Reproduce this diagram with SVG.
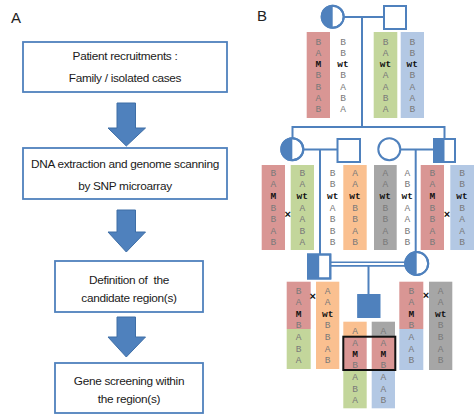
<svg xmlns="http://www.w3.org/2000/svg" width="474" height="416" viewBox="0 0 474 416">
<style>
.lbl{font-family:"Liberation Sans",Arial,sans-serif;font-size:15px;fill:#222}
.box{fill:#fff;stroke:#4f81bd;stroke-width:1.8}
.ft{font-family:"Liberation Sans",Arial,sans-serif;font-size:11.8px;letter-spacing:-0.3px;fill:#1a1a1a;text-anchor:middle}
.arr{fill:#4f81bd;stroke:#3e6ea6;stroke-width:1}
.ln{stroke:#4f81bd;stroke-width:2;fill:none}
.sym{fill:#fff;stroke:#4f81bd;stroke-width:2}
.fill{fill:#4f81bd}
.r{fill:#d99694}.g{fill:#c3d69b}.b{fill:#b3c8e4}.o{fill:#fac090}.k{fill:#a6a6a6}
.h{font-family:"Liberation Mono","Courier New",monospace;font-size:9.5px;fill:#7a7a7a;text-anchor:middle}
.m{font-family:"Liberation Mono","Courier New",monospace;font-size:9.5px;font-weight:bold;fill:#111;text-anchor:middle}
.x{font-family:"Liberation Sans",Arial,sans-serif;font-size:11px;font-weight:bold;fill:#111;text-anchor:middle}
</style>

<text class="lbl" x="11" y="23">A</text>
<text class="lbl" x="257" y="21">B</text>

<!-- Flowchart -->
<g id="step1">
<rect class="box" x="23" y="42" width="204" height="50"/>
<text class="ft" x="125" y="59.5">Patient recruitments :</text>
<text class="ft" x="125" y="81.5">Family / isolated cases</text>
</g>
<g id="step2">
<rect class="box" x="23" y="148" width="204" height="51"/>
<text class="ft" x="125" y="168">DNA extraction and genome scanning</text>
<text class="ft" x="125" y="189.5">by SNP microarray</text>
</g>
<g id="step3">
<rect class="box" x="55" y="261" width="148" height="51"/>
<text class="ft" x="129" y="283.5" xml:space="preserve">Definition of  the</text>
<text class="ft" x="129" y="301.5">candidate region(s)</text>
</g>
<g id="step4">
<rect class="box" x="55" y="363" width="148" height="50"/>
<text class="ft" x="129" y="385">Gene screening within</text>
<text class="ft" x="129" y="402.5">the region(s)</text>
</g>
<g id="flow-arrows">
<path class="arr" d="M117,103 H135.5 V128 H145.5 L126.3,146 L108,128 H117 Z"/>
<path class="arr" d="M117,210 H135.5 V232 H145.5 L126.3,252 L108,232 H117 Z"/>
<path class="arr" d="M117,317 H135.5 V337 H145.5 L126.3,357 L108,337 H117 Z"/>
</g>

<!-- Pedigree connectors -->
<g id="pedigree-lines">
<line class="ln" x1="344" y1="17" x2="384" y2="17"/>
<line class="ln" x1="362" y1="17" x2="362" y2="127"/>
<line class="ln" x1="292.5" y1="127" x2="444.5" y2="127"/>
<line class="ln" x1="292.5" y1="126" x2="292.5" y2="138"/>
<line class="ln" x1="444.5" y1="126" x2="444.5" y2="139"/>
<line class="ln" x1="303.5" y1="149.5" x2="337.5" y2="149.5"/>
<line class="ln" x1="320" y1="149.5" x2="320" y2="254.5"/>
<line class="ln" x1="400.5" y1="149.5" x2="434" y2="149.5"/>
<line class="ln" x1="415.7" y1="149.5" x2="415.7" y2="252"/>
<line class="ln" x1="330.5" y1="262.3" x2="405.5" y2="262.3" style="stroke-width:1.6"/>
<line class="ln" x1="330.5" y1="265.9" x2="405.5" y2="265.9" style="stroke-width:1.6"/>
<line class="ln" x1="368.5" y1="266" x2="368.5" y2="294.5"/>
</g>

<!-- Generation I -->
<g id="I-1">
<circle class="sym" cx="332.7" cy="16.8" r="11"/>
<path class="fill" d="M332.7,5.8 A11,11 0 0 0 332.7,27.8 Z"/>
<circle cx="332.7" cy="16.8" r="11" fill="none" stroke="#4f81bd" stroke-width="2"/>
</g>
<g id="I-2"><rect class="sym" x="384" y="6" width="22" height="23"/></g>

<g id="I-hap">
<rect class="r" x="306.7" y="32" width="23.3" height="86"/>
<rect class="g" x="373.7" y="32" width="23.6" height="86"/>
<rect class="b" x="400.7" y="32" width="23.3" height="86"/>
<g transform="translate(318.3,0)">
<text class="h" y="44.8">B</text><text class="h" y="56">A</text><text class="m" y="67.2">M</text><text class="h" y="78.4">B</text><text class="h" y="89.6">B</text><text class="h" y="100.8">A</text><text class="h" y="112">B</text>
</g>
<g transform="translate(343,0)">
<text class="h" y="44.8">B</text><text class="h" y="56">B</text><text class="m" y="67.2">wt</text><text class="h" y="78.4">B</text><text class="h" y="89.6">A</text><text class="h" y="100.8">B</text><text class="h" y="112">A</text>
</g>
<g transform="translate(385.5,0)">
<text class="h" y="44.8">B</text><text class="h" y="56">A</text><text class="m" y="67.2">wt</text><text class="h" y="78.4">A</text><text class="h" y="89.6">A</text><text class="h" y="100.8">B</text><text class="h" y="112">A</text>
</g>
<g transform="translate(412.3,0)">
<text class="h" y="44.8">B</text><text class="h" y="56">B</text><text class="m" y="67.2">wt</text><text class="h" y="78.4">B</text><text class="h" y="89.6">A</text><text class="h" y="100.8">A</text><text class="h" y="112">B</text>
</g>
</g>

<!-- Generation II -->
<g id="II-1">
<circle class="sym" cx="292.3" cy="149.3" r="11"/>
<path class="fill" d="M292.3,138.3 A11,11 0 0 0 292.3,160.3 Z"/>
<circle cx="292.3" cy="149.3" r="11" fill="none" stroke="#4f81bd" stroke-width="2"/>
</g>
<g id="II-2"><rect class="sym" x="337.5" y="139" width="22.5" height="23"/></g>
<g id="II-3"><circle class="sym" cx="389.3" cy="149.3" r="11"/></g>
<g id="II-4">
<rect class="sym" x="434" y="139" width="21" height="23"/>
<rect class="fill" x="434" y="139" width="10.5" height="23"/>
<rect x="434" y="139" width="21" height="23" fill="none" stroke="#4f81bd" stroke-width="2"/>
</g>

<g id="II-hap">
<rect class="r" x="261.7" y="165" width="23.3" height="85"/>
<rect class="g" x="290.7" y="165" width="23.3" height="85"/>
<rect class="o" x="343.3" y="165" width="23.4" height="85"/>
<rect class="k" x="374" y="165" width="22.7" height="85"/>
<rect class="r" x="420.7" y="165" width="23.3" height="85"/>
<rect class="b" x="450.3" y="165" width="23.7" height="85"/>
<g transform="translate(273.3,0)">
<text class="h" y="175.8">B</text><text class="h" y="187.4">A</text><text class="m" y="199">M</text><text class="h" y="210.6">B</text><text class="h" y="222.2">B</text><text class="h" y="233.6">A</text><text class="h" y="245">B</text>
</g>
<g transform="translate(302.3,0)">
<text class="h" y="175.8">B</text><text class="h" y="187.4">A</text><text class="m" y="199">wt</text><text class="h" y="210.6">A</text><text class="h" y="222.2">A</text><text class="h" y="233.6">B</text><text class="h" y="245">A</text>
</g>
<g transform="translate(332.7,0)">
<text class="h" y="175.8">B</text><text class="h" y="187.4">B</text><text class="m" y="199">wt</text><text class="h" y="210.6">A</text><text class="h" y="222.2">B</text><text class="h" y="233.6">B</text><text class="h" y="245">B</text>
</g>
<g transform="translate(355,0)">
<text class="h" y="175.8">A</text><text class="h" y="187.4">A</text><text class="m" y="199">wt</text><text class="h" y="210.6">B</text><text class="h" y="222.2">B</text><text class="h" y="233.6">A</text><text class="h" y="245">B</text>
</g>
<g transform="translate(385.3,0)">
<text class="h" y="175.8">A</text><text class="h" y="187.4">A</text><text class="m" y="199">wt</text><text class="h" y="210.6">B</text><text class="h" y="222.2">B</text><text class="h" y="233.6">A</text><text class="h" y="245">B</text>
</g>
<g transform="translate(407.3,0)">
<text class="h" y="175.8">A</text><text class="h" y="187.4">B</text><text class="m" y="199">wt</text><text class="h" y="210.6">A</text><text class="h" y="222.2">A</text><text class="h" y="233.6">B</text><text class="h" y="245">B</text>
</g>
<g transform="translate(432.3,0)">
<text class="h" y="175.8">B</text><text class="h" y="187.4">A</text><text class="m" y="199">M</text><text class="h" y="210.6">B</text><text class="h" y="222.2">B</text><text class="h" y="233.6">A</text><text class="h" y="245">B</text>
</g>
<g transform="translate(462,0)">
<text class="h" y="175.8">B</text><text class="h" y="187.4">B</text><text class="m" y="199">wt</text><text class="h" y="210.6">B</text><text class="h" y="222.2">A</text><text class="h" y="233.6">A</text><text class="h" y="245">B</text>
</g>
<text class="x" x="287.7" y="218">×</text>
<text class="x" x="446.9" y="218">×</text>
</g>

<!-- Generation III -->
<g id="III-1">
<rect class="sym" x="308" y="254.5" width="22.3" height="24"/>
<rect class="fill" x="308" y="254.5" width="11.2" height="24"/>
<rect x="308" y="254.5" width="22.3" height="24" fill="none" stroke="#4f81bd" stroke-width="2"/>
</g>
<g id="III-2">
<circle class="sym" cx="416.7" cy="263.5" r="11.5"/>
<path class="fill" d="M416.7,252 A11.5,11.5 0 0 0 416.7,275 Z"/>
<circle cx="416.7" cy="263.5" r="11.5" fill="none" stroke="#4f81bd" stroke-width="2"/>
</g>

<g id="III-hap">
<rect class="r" x="286.7" y="281.7" width="24" height="47.3"/>
<rect class="g" x="286.7" y="329" width="24" height="40"/>
<rect class="o" x="316" y="281.7" width="23.3" height="87.3"/>
<rect class="r" x="399.3" y="281.7" width="24" height="47.3"/>
<rect class="b" x="399.3" y="329" width="24" height="41"/>
<rect class="k" x="429" y="281.7" width="23.3" height="88.3"/>
<g transform="translate(298.7,0)">
<text class="h" y="294.2">B</text><text class="h" y="305.3">A</text><text class="m" y="316.6">M</text><text class="h" y="328.2">B</text><text class="h" y="340.4">A</text><text class="h" y="351.6">B</text><text class="h" y="363.2">A</text>
</g>
<g transform="translate(327.7,0)">
<text class="h" y="294.2">A</text><text class="h" y="305.3">A</text><text class="m" y="316.6">wt</text><text class="h" y="328.2">B</text><text class="h" y="340.4">B</text><text class="h" y="351.6">A</text><text class="h" y="363.2">B</text>
</g>
<g transform="translate(411.3,0)">
<text class="h" y="294.2">B</text><text class="h" y="305.3">A</text><text class="m" y="316.6">M</text><text class="h" y="328.2">B</text><text class="h" y="340.4">A</text><text class="h" y="351.6">A</text><text class="h" y="363.2">B</text>
</g>
<g transform="translate(440.7,0)">
<text class="h" y="294.2">A</text><text class="h" y="305.3">A</text><text class="m" y="316.6">wt</text><text class="h" y="328.2">B</text><text class="h" y="340.4">B</text><text class="h" y="351.6">A</text><text class="h" y="363.2">B</text>
</g>
<text class="x" x="312.7" y="299.8">×</text>
<text class="x" x="425.9" y="298.8">×</text>
</g>

<!-- Generation IV -->
<g id="IV-1"><rect class="fill" x="357.7" y="294.5" width="22.3" height="23" stroke="#4f81bd" stroke-width="1"/></g>

<g id="IV-hap">
<rect class="o" x="343.3" y="321.7" width="23.4" height="15"/>
<rect class="r" x="343.3" y="336.7" width="23.4" height="33.3"/>
<rect class="g" x="343.3" y="370" width="23.4" height="38.3"/>
<rect class="k" x="371.7" y="321.7" width="23.3" height="15"/>
<rect class="r" x="371.7" y="336.7" width="23.3" height="33.3"/>
<rect class="b" x="371.7" y="370" width="23.3" height="38.3"/>
<g transform="translate(355,0)">
<text class="h" y="333.9">A</text><text class="h" y="345.5">A</text><text class="m" y="356.5">M</text><text class="h" y="368.2">B</text><text class="h" y="379.9">A</text><text class="h" y="391.5">B</text><text class="h" y="403.2">A</text>
</g>
<g transform="translate(383.3,0)">
<text class="h" y="333.9">A</text><text class="h" y="345.5">A</text><text class="m" y="356.5">M</text><text class="h" y="368.2">B</text><text class="h" y="379.9">A</text><text class="h" y="391.5">A</text><text class="h" y="403.2">B</text>
</g>
<rect x="343.3" y="336.7" width="52" height="33.3" fill="none" stroke="#111" stroke-width="2"/>
</g>
</svg>
